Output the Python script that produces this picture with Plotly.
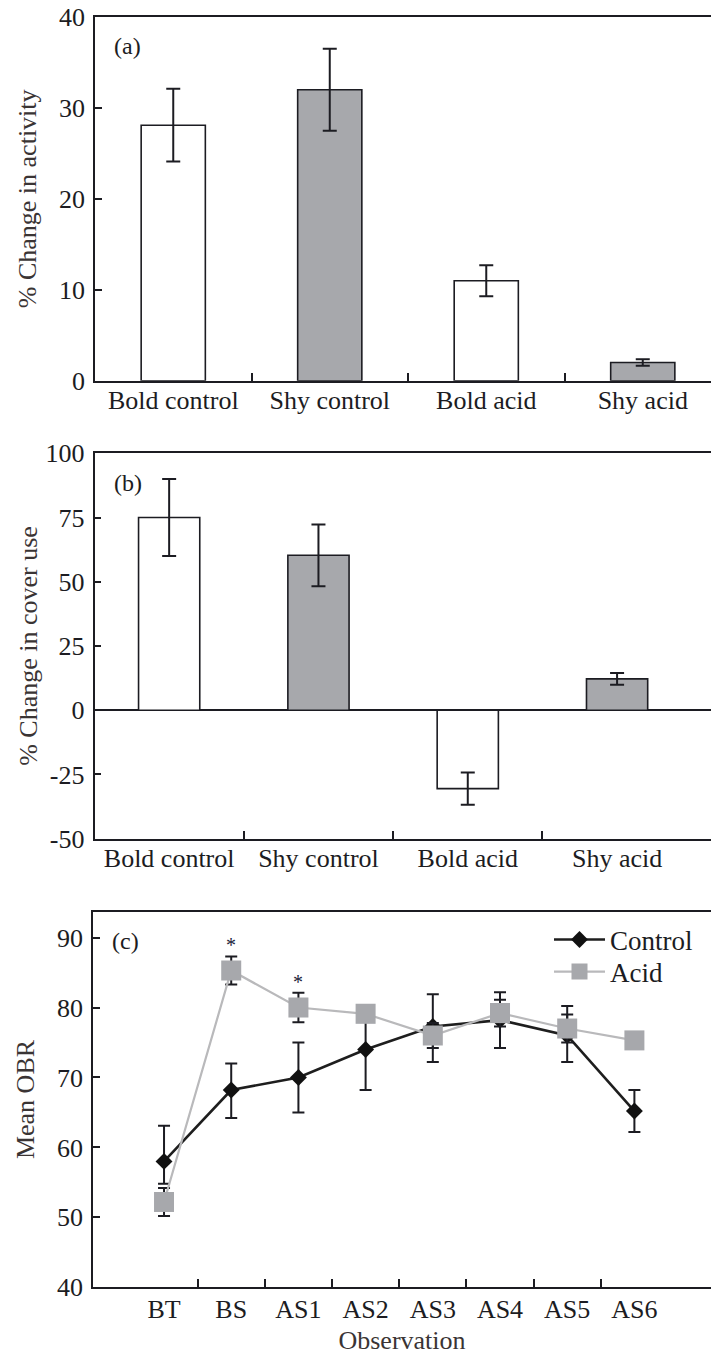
import plotly.graph_objects as go

# ---------------- data ----------------
groups = ["Bold control", "Shy control", "Bold acid", "Shy acid"]
group_fill = ["white", "#a7a8ac", "white", "#a7a8ac"]

activity = [28.1, 32.0, 11.0, 2.0]
activity_err = [4.0, 4.5, 1.7, 0.35]

cover = [75.0, 60.3, -30.5, 12.2]
cover_err = [15.0, 12.0, 6.3, 2.3]

observations = ["BT", "BS", "AS1", "AS2", "AS3", "AS4", "AS5", "AS6"]
control_obr = [58.0, 68.2, 70.0, 74.0, 77.3, 78.2, 76.0, 65.2]
control_err_plus = [5.1, 3.8, 5.0, 5.8, 4.6, 4.0, 4.2, 3.0]
control_err_minus = [3.2, 4.0, 5.0, 5.8, 5.1, 4.0, 3.8, 3.0]
acid_obr = [52.2, 85.3, 80.0, 79.1, 76.0, 79.2, 77.0, 75.3]
acid_err = [2.0, 2.0, 2.1, 1.0, 1.8, 1.9, 2.0, 1.0]
significance = ["", "*", "*", "", "", "", "", ""]

# ---------------- style ----------------
FONT = "Liberation Serif"
FS = 26
INK = "#1c1c22"
TITLE_INK = "#3a3434"
W, H = 711, 1358
ML = 93

def xdom(left_px):
    return [(left_px - ML) / (W - ML), 1.0]

def ydom(top_px, bottom_px):
    return [(H - bottom_px) / H, (H - top_px) / H]

fig = go.Figure()

gx = list(range(len(groups)))
fig.add_trace(go.Bar(
    x=gx, y=activity, width=0.41,
    marker=dict(color=group_fill, line=dict(color=INK, width=1.6)),
    error_y=dict(type="data", array=activity_err, color=INK, thickness=2, width=7),
    showlegend=False, xaxis="x", yaxis="y"))

fig.add_trace(go.Bar(
    x=gx, y=cover, width=0.41,
    marker=dict(color=group_fill, line=dict(color=INK, width=1.6)),
    error_y=dict(type="data", array=cover_err, color=INK, thickness=2, width=7),
    showlegend=False, xaxis="x2", yaxis="y2"))

ox = list(range(len(observations)))
fig.add_trace(go.Scatter(
    x=ox, y=control_obr, name="Control", mode="lines+markers", legend="legend",
    line=dict(color="#1e1e1e", width=2.6),
    marker=dict(symbol="diamond", size=13, color="#111111"),
    error_y=dict(type="data", symmetric=False, array=control_err_plus,
                 arrayminus=control_err_minus, color=INK, thickness=2, width=6),
    xaxis="x3", yaxis="y3"))
fig.add_trace(go.Scatter(
    x=ox, y=acid_obr, name="Acid", mode="lines+markers", legend="legend2",
    line=dict(color="#b9b9bb", width=2.2),
    marker=dict(symbol="square", size=20, color="#a7a8ac"),
    error_y=dict(type="data", array=acid_err, color=INK, thickness=2, width=6),
    xaxis="x3", yaxis="y3"))

axis_common = dict(showline=True, linecolor=INK, linewidth=1.8, showgrid=False,
                   zeroline=False, tickfont=dict(family=FONT, size=FS, color=INK),
                   tickcolor=INK, tickwidth=1.6, automargin=False)

def div_minor(n):
    return dict(tickmode="array", tickvals=[i + 0.5 for i in range(n - 1)],
                ticks="inside", ticklen=8, tickwidth=1.6, tickcolor=INK, showgrid=False)

layout = dict(
    width=W, height=H, plot_bgcolor="white", paper_bgcolor="white",
    margin=dict(l=ML, r=0, t=0, b=0, autoexpand=False),
    font=dict(family=FONT, size=FS, color=INK),
    bargap=0.5,
)

title_font = dict(family=FONT, size=FS, color=TITLE_INK)

# panel (a)
layout["xaxis"] = dict(axis_common, domain=xdom(95), range=[-0.5, 3.436], mirror=True,
                       tickmode="array", tickvals=gx, ticktext=groups, ticks="",
                       minor=div_minor(len(groups)), anchor="y", ticklabelstandoff=-5)
layout["yaxis"] = dict(axis_common, domain=ydom(17, 380.7), range=[0, 40],
                       tickvals=[0, 10, 20, 30, 40], ticks="inside", ticklen=7,
                       anchor="x", ticklabelstandoff=3,
                       title=dict(text="% Change in activity", standoff=15, font=title_font))
# panel (b)
cover_ticks = [-50, -25, 0, 25, 50, 75, 100]
layout["xaxis2"] = dict(axis_common, domain=xdom(94.5), range=[-0.5, 3.629], mirror=True,
                        tickmode="array", tickvals=gx, ticktext=groups, ticks="",
                        minor=div_minor(len(groups)), anchor="y2", ticklabelstandoff=-5)
layout["yaxis2"] = dict(axis_common, domain=ydom(453.3, 838.7), range=[-50, 100],
                        tickvals=cover_ticks, ticktext=[str(v) for v in cover_ticks],
                        ticks="inside", ticklen=7, anchor="x2", ticklabelstandoff=3,
                        zeroline=True, zerolinecolor=INK, zerolinewidth=1.8,
                        title=dict(text="% Change in cover use", standoff=0, font=title_font))
# panel (c)
layout["xaxis3"] = dict(axis_common, domain=xdom(93), range=[-1.057, 8.14], mirror=True,
                        tickmode="array", tickvals=ox, ticktext=observations, ticks="",
                        minor=div_minor(len(observations)), anchor="y3", ticklabelstandoff=-2,
                        title=dict(text="Observation", standoff=7, font=title_font))
layout["yaxis3"] = dict(axis_common, domain=ydom(911.7, 1287.3), range=[40, 93.7],
                        tickvals=[40, 50, 60, 70, 80, 90], ticks="inside", ticklen=7,
                        anchor="x3", ticklabelstandoff=3,
                        title=dict(text="Mean OBR", standoff=15, font=title_font))

legend_common = dict(xanchor="left", yanchor="middle", xref="paper", yref="paper",
                     bgcolor="rgba(0,0,0,0)", font=dict(family=FONT, size=27, color=INK),
                     itemwidth=51)
layout["legend"] = dict(legend_common, x=(549 - ML) / (W - ML), y=(H - 940) / H)
layout["legend2"] = dict(legend_common, x=(549 - ML) / (W - ML), y=(H - 972) / H)

fig.update_layout(**layout)

# panel labels
for lab, xa, ya in [("(a)", "x", "y"), ("(b)", "x2", "y2"), ("(c)", "x3", "y3")]:
    fig.add_annotation(text=lab, xref=f"{xa} domain", yref=f"{ya} domain",
                       x=0.028, y=0.962, xanchor="left", yanchor="top",
                       showarrow=False, font=dict(family=FONT, size=FS - 2, color=INK))

# significance markers over acid points
for i, s in enumerate(significance):
    if s:
        fig.add_annotation(text=s, x=ox[i], y=acid_obr[i] + acid_err[i], xref="x3", yref="y3",
                           yanchor="bottom", yshift=-2, showarrow=False,
                           font=dict(family=FONT, size=20, color="#1a1a3a"))

fig.write_html(
    "out.html",
    config={"displayModeBar": False},
    post_script="document.body.style.margin='0px';document.body.style.overflow='hidden';",
)
